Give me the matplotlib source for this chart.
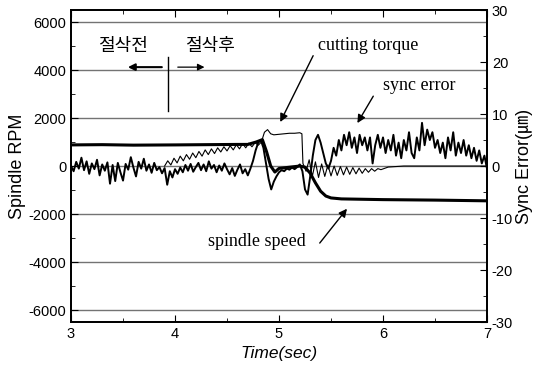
import matplotlib.pyplot as plt
import numpy as np
from matplotlib.ticker import MultipleLocator

plt.rcParams['font.family'] = ['Liberation Sans', 'Noto Sans CJK KR']
plt.rcParams['axes.unicode_minus'] = False

# sync error (um), sampled every 0.025 s from 3.0 to 7.0
err_time = np.round(np.arange(3.0, 7.0001, 0.025), 3)
sync_error = [
    0.0, -1.0, 0.8, -0.5, 1.6, -0.8, 0.9, -1.5, 0.5, -0.6,
    1.2, -1.8, 0.3, -0.9, 0.7, -3.4, 0.2, -2.9, 0.6, -1.2,
    -2.8, 0.4, -0.7, 1.7, -0.3, -2.0, 0.8, -0.5, 1.4, -0.9,
    0.3, -1.3, 0.6, -0.8, -0.2, -1.4, -0.4, -3.6, -1.0, -2.2,
    -0.6, -1.5, -0.3, -1.2, 0.2, -0.9, 0.4, -1.1, -0.2, 0.6,
    -0.8, 0.3, -1.0, 0.9, -0.5, 0.2, -1.2, 0.1, -0.9, 0.5,
    -0.6, -1.6, -0.4, -1.9, -0.7, 0.3, -1.4, -0.6, -1.8, -0.5,
    1.0, 3.0, 4.5, 5.0, 3.5, 0.5, -2.5, -4.5, -3.0, -2.0,
    -1.2, -0.8, -1.0, -0.5, -0.7, -0.3, -0.6, -0.2, 0.3, -1.0,
    -4.5, -5.5, -2.0, 2.0, 5.0, 6.0, 4.5, 2.5, 0.5, -0.5,
    1.0, 3.5, 2.0, 5.0, 3.0, 6.0, 4.0, 6.5, 3.5, 5.5,
    2.5, 6.0, 4.0, 5.5, 3.0, 5.5, 0.5, 4.0, 6.0, 3.5,
    5.5, 2.5, 5.0, 3.0, 6.0, 2.0, 4.5, 1.5, 5.0, 3.0,
    6.5, 2.5, 1.5, 5.5, 3.0, 8.3, 4.0, 7.0, 5.0, 6.5,
    3.5, 5.0, 2.5, 4.5, 1.5, 5.5, 3.0, 6.5, 2.0, 4.5,
    2.5, 5.0, 2.0, 4.0, 1.5, 3.5, 1.0, 3.0, 0.5, 2.0,
    -0.5,
]

# cutting torque (drawn on the sync error scale)
torque_time = [3.90, 3.93, 3.96, 3.99, 4.02, 4.05, 4.08, 4.11, 4.14, 4.17,
               4.20, 4.23, 4.26, 4.29, 4.32, 4.35, 4.38, 4.41, 4.44, 4.47,
               4.50, 4.53, 4.56, 4.59, 4.62, 4.65, 4.68, 4.71, 4.74, 4.77,
               4.80, 4.83, 4.86, 4.89, 4.92, 4.95, 5.00, 5.05, 5.10, 5.15,
               5.20, 5.22, 5.23, 5.26, 5.29, 5.32, 5.35, 5.38, 5.41, 5.44,
               5.47, 5.50, 5.53, 5.56, 5.59, 5.62, 5.65, 5.68, 5.71, 5.74,
               5.77, 5.80, 5.83, 5.86, 5.89, 5.92, 5.95, 5.98, 6.05, 6.20,
               7.00]
cutting_torque = [0.0, 1.0, 0.2, 1.5, 0.6, 1.9, 1.0, 2.2, 1.3, 2.5,
                  1.6, 2.8, 1.9, 3.1, 2.2, 3.3, 2.4, 3.5, 2.7, 3.7,
                  2.9, 3.9, 3.1, 4.1, 3.3, 4.3, 3.5, 4.4, 3.7, 4.5,
                  4.0, 4.6, 6.5, 7.0, 6.2, 6.0, 6.1, 6.2, 6.3, 6.3,
                  6.4, 6.2, 0.5, -1.0, 1.2, -2.0, 0.8, -2.2, 0.4, -2.0,
                  0.2, -1.9, 0.0, -1.8, -0.1, -1.7, -0.2, -1.6, -0.3, -1.5,
                  -0.4, -1.4, -0.5, -1.2, -0.5, -1.0, -0.5, -0.7, -0.2, 0.0,
                  0.0]

# spindle speed (RPM)
speed_time = [3.0, 3.3, 3.6, 4.0, 4.3, 4.6, 4.70, 4.78, 4.84, 4.88,
              4.92, 4.96, 5.00, 5.10, 5.20, 5.25, 5.30, 5.35, 5.40, 5.45,
              5.50, 5.60, 6.00, 6.50, 7.00]
spindle_speed = [880, 890, 870, 880, 890, 900, 900, 1000, 1100, 600,
                 0, -250, -100, -50, 0, -50, -300, -700, -1050, -1250,
                 -1330, -1370, -1400, -1420, -1450]

fig = plt.figure(figsize=(5.34, 3.71), dpi=100)
ax = fig.add_axes([0.133, 0.132, 0.779, 0.841])
ax2 = ax.twinx()

ax.set_xlim(3, 7)
ax.set_ylim(-6500, 6500)
ax2.set_ylim(-30, 30)

for yv in [-6000, -4000, -2000, 0, 2000, 4000, 6000]:
    ax.axhline(yv, color='0.45', lw=1, zorder=0)

ax.plot(speed_time, spindle_speed, color='k', lw=2.2)
ax2.plot(err_time, sync_error, color='k', lw=1.4)
ax2.plot(torque_time, cutting_torque, color='k', lw=0.8)

ax.xaxis.set_major_locator(MultipleLocator(1))
ax.xaxis.set_minor_locator(MultipleLocator(0.5))
ax.yaxis.set_major_locator(MultipleLocator(2000))
ax.yaxis.set_minor_locator(MultipleLocator(1000))
ax2.yaxis.set_major_locator(MultipleLocator(10))
ax2.yaxis.set_minor_locator(MultipleLocator(5))
ax.tick_params(which='both', direction='in', top=True, labelsize=10.5)
ax.tick_params(which='major', length=5)
ax.tick_params(which='minor', length=3)
ax2.tick_params(which='both', direction='in', labelsize=10.5)
ax2.tick_params(which='major', length=5)
ax2.tick_params(which='minor', length=3)
for a in (ax, ax2):
    for sp in a.spines.values():
        sp.set_linewidth(1.3)

ax.set_xlabel('Time(sec)', fontsize=12.5, style='italic', labelpad=4)
ax.set_ylabel('Spindle RPM', fontsize=13, labelpad=2)
ax2.set_ylabel('Sync Error(㎛)', fontsize=13, labelpad=2)

# before / after cutting marks
ax.text(3.5, 4990, '절삭전', fontsize=13, ha='center', va='center',
        family=['Noto Sans CJK KR'])
ax.text(4.34, 4990, '절삭후', fontsize=13, ha='center', va='center',
        family=['Noto Sans CJK KR'])
ax.annotate('', xy=(3.52, 4120), xytext=(3.9, 4120),
            arrowprops=dict(arrowstyle='-|>', lw=1.5, color='k', mutation_scale=10))
ax.annotate('', xy=(4.31, 4120), xytext=(4.0, 4120),
            arrowprops=dict(arrowstyle='-|>', lw=0.9, color='k', mutation_scale=10))
ax.plot([3.93, 3.93], [2310, 4540], color='k', lw=1)

serif = ['Liberation Serif']
ax.text(5.375, 5030, 'cutting torque', fontsize=13, va='center', family=serif)
ax.annotate('', xy=(5.0, 1730), xytext=(5.34, 4700),
            arrowprops=dict(arrowstyle='-|>', lw=1, color='k', mutation_scale=12))
ax.text(6.0, 3340, 'sync error', fontsize=13, va='center', family=serif)
ax.annotate('', xy=(5.74, 1690), xytext=(5.92, 3010),
            arrowprops=dict(arrowstyle='-|>', lw=1, color='k', mutation_scale=12))
ax.text(4.32, -3130, 'spindle speed', fontsize=13, va='center', family=serif)
ax.annotate('', xy=(5.67, -1690), xytext=(5.375, -3300),
            arrowprops=dict(arrowstyle='-|>', lw=1, color='k', mutation_scale=12))

fig.savefig('out.png', dpi=100)
